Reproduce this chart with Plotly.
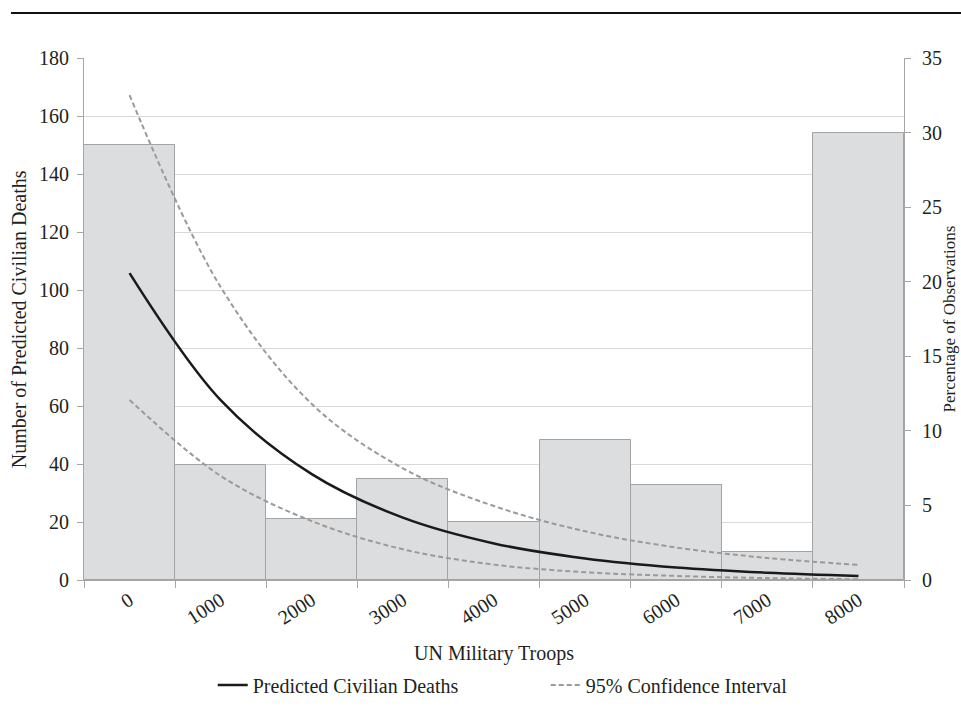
import plotly.graph_objects as go

# UN troop deployment bins (category labels on the x axis)
troops = ["0", "1000", "2000", "3000", "4000", "5000", "6000", "7000", "8000"]

# Share of observations falling in each troop bin (%), right axis
pct_obs = [29.2, 7.7, 4.1, 6.8, 3.9, 9.4, 6.4, 1.9, 30.0]

# Predicted civilian deaths and 95% confidence bounds, left axis
predicted = [105.8, 62.0, 36.5, 21.5, 12.6, 7.4, 4.3, 2.5, 1.4]
ci_upper = [167.2, 101.0, 60.7, 38.5, 25.5, 16.8, 11.2, 7.6, 5.2]
ci_lower = [62.1, 35.9, 20.3, 10.6, 5.3, 2.7, 1.4, 0.65, 0.25]

FONT = "Liberation Serif"
TXT = "#231F20"
AXIS = "#A6A6A6"
GRID = "#D9D9D9"

fig = go.Figure()

# Histogram of observations (primary axis, drawn underneath)
fig.add_trace(go.Bar(
    x=troops, y=pct_obs, yaxis="y",
    marker=dict(color="#DCDDDF", line=dict(color="#A3A3A3", width=1)),
    showlegend=False, hoverinfo="skip",
))

# Confidence interval bounds
fig.add_trace(go.Scatter(
    x=troops, y=ci_upper, yaxis="y2", mode="lines",
    line=dict(color="#9A9A9A", width=2, dash="5px,3px", shape="spline", smoothing=1),
    name="95% Confidence Interval", legendrank=2,
))
fig.add_trace(go.Scatter(
    x=troops, y=ci_lower, yaxis="y2", mode="lines",
    line=dict(color="#9A9A9A", width=2, dash="5px,3px", shape="spline", smoothing=1),
    name="95% Confidence Interval", showlegend=False,
))

# Predicted civilian deaths
fig.add_trace(go.Scatter(
    x=troops, y=predicted, yaxis="y2", mode="lines",
    line=dict(color="#1A1A1A", width=2.5, shape="spline", smoothing=1),
    name="Predicted Civilian Deaths", legendrank=1,
))

fig.update_layout(
    width=961, height=713,
    margin=dict(l=84, r=57, t=58, b=133, autoexpand=False),
    paper_bgcolor="white", plot_bgcolor="white",
    font=dict(family=FONT, size=20, color=TXT),
    bargap=0,
    xaxis=dict(
        type="category", tickson="boundaries",
        ticks="outside", ticklen=7, tickcolor=AXIS, tickwidth=1,
        showline=True, linecolor=AXIS, linewidth=1,
        showgrid=False, tickangle=-33,
        tickfont=dict(family=FONT, size=20, color=TXT),
    ),
    yaxis=dict(
        side="right", range=[0, 35], dtick=5,
        showgrid=False, zeroline=False,
        showline=True, linecolor=AXIS, linewidth=1,
        ticks="outside", ticklen=6, tickcolor=AXIS,
        ticklabelstandoff=7,
        tickfont=dict(family=FONT, size=20, color=TXT),
    ),
    yaxis2=dict(
        overlaying="y", side="left", range=[0, 180], dtick=20,
        showgrid=True, gridcolor=GRID, gridwidth=1, zeroline=False,
        showline=True, linecolor=AXIS, linewidth=1,
        ticks="outside", ticklen=6, tickcolor=AXIS,
        ticklabelstandoff=4,
        tickfont=dict(family=FONT, size=20, color=TXT),
    ),
    legend=dict(
        orientation="h", x=0.157, xanchor="left", y=-0.201, yanchor="middle",
        font=dict(family=FONT, size=20, color=TXT),
        entrywidth=288, entrywidthmode="pixels",
        bgcolor="rgba(0,0,0,0)", traceorder="normal",
    ),
    annotations=[
        dict(text="UN Military Troops", xref="paper", yref="paper",
             x=0.5, y=-0.14, xanchor="center", yanchor="middle",
             showarrow=False, font=dict(family=FONT, size=20, color=TXT)),
        dict(text="Number of Predicted Civilian Deaths", xref="paper", yref="paper",
             x=-0.079, y=0.5, xanchor="center", yanchor="middle", textangle=-90,
             showarrow=False, font=dict(family=FONT, size=20, color=TXT)),
        dict(text="Percentage of Observations", xref="paper", yref="paper",
             x=(960 - 84) / 820, y=0.5, xanchor="right", yanchor="middle", textangle=-90,
             showarrow=False, font=dict(family=FONT, size=17, color=TXT)),
    ],
    shapes=[
        # rule across the top of the figure
        dict(type="line", xref="paper", yref="paper",
             x0=(11 - 84) / 820, x1=(961 - 84) / 820,
             y0=(580 - 13) / 522, y1=(580 - 13) / 522,
             line=dict(color="#111111", width=2)),
    ],
)

fig.write_html("out.html")
